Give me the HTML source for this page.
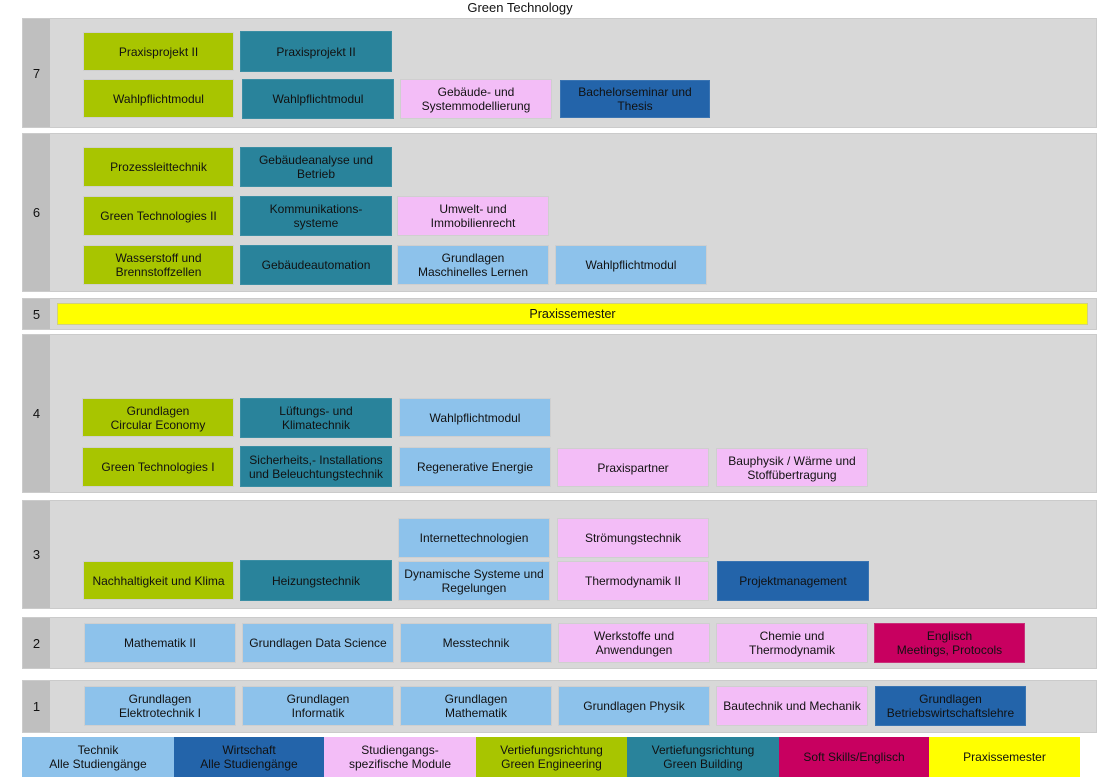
<!DOCTYPE html>
<html><head><meta charset="utf-8"><style>
html,body{margin:0;padding:0;background:#fff;}
body{width:1111px;height:784px;position:relative;overflow:hidden;font-family:"Liberation Sans",Arial,sans-serif;color:#111;}
.t{position:absolute;left:420px;width:200px;top:0;text-align:center;font-size:13px;line-height:15px;}
.band{position:absolute;left:22px;width:1075px;background:#d8d8d8;box-sizing:border-box;border:1px solid #cbcbcb;}
.lab{position:absolute;left:0;top:0;bottom:0;width:27px;background:#bfbfbf;display:flex;align-items:center;justify-content:center;font-size:13px;}
.b{position:absolute;box-sizing:border-box;display:flex;align-items:center;justify-content:center;text-align:center;font-size:12px;line-height:14px;border:1px solid #cfcfcf;}
.g{background:#a8c500;}
.c{background:#29839b;border-color:#3b8ea4;}
.p{background:#f3bdf7;}
.l{background:#8dc2eb;}
.d{background:#2364aa;border-color:#3a74b2;}
.m{background:#c80060;border-color:#c9307a;}
.y{background:#ffff00;border-color:#d0d080;}
.lg{position:absolute;top:737px;height:40px;box-sizing:border-box;display:flex;align-items:center;justify-content:center;text-align:center;font-size:12px;line-height:14px;}
</style></head><body>
<div class="t">Green Technology</div>

<!-- Semester 7 -->
<div class="band" style="top:18px;height:110px;"><div class="lab">7</div></div>
<div class="b g" style="left:83px;top:32px;width:151px;height:39px;">Praxisprojekt II</div>
<div class="b c" style="left:240px;top:31px;width:152px;height:41px;">Praxisprojekt II</div>
<div class="b g" style="left:83px;top:79px;width:151px;height:39px;">Wahlpflichtmodul</div>
<div class="b c" style="left:242px;top:79px;width:152px;height:40px;">Wahlpflichtmodul</div>
<div class="b p" style="left:400px;top:79px;width:152px;height:40px;">Gebäude- und<br>Systemmodellierung</div>
<div class="b d" style="left:560px;top:80px;width:150px;height:38px;">Bachelorseminar und<br>Thesis</div>

<!-- Semester 6 -->
<div class="band" style="top:133px;height:159px;"><div class="lab">6</div></div>
<div class="b g" style="left:83px;top:147px;width:151px;height:40px;">Prozessleittechnik</div>
<div class="b c" style="left:240px;top:147px;width:152px;height:40px;">Gebäudeanalyse und<br>Betrieb</div>
<div class="b g" style="left:83px;top:196px;width:151px;height:40px;">Green Technologies II</div>
<div class="b c" style="left:240px;top:196px;width:152px;height:40px;">Kommunikations-<br>systeme</div>
<div class="b p" style="left:397px;top:196px;width:152px;height:40px;">Umwelt- und<br>Immobilienrecht</div>
<div class="b g" style="left:83px;top:245px;width:151px;height:40px;">Wasserstoff und<br>Brennstoffzellen</div>
<div class="b c" style="left:240px;top:245px;width:152px;height:40px;">Gebäudeautomation</div>
<div class="b l" style="left:397px;top:245px;width:152px;height:40px;">Grundlagen<br>Maschinelles Lernen</div>
<div class="b l" style="left:555px;top:245px;width:152px;height:40px;">Wahlpflichtmodul</div>

<!-- Semester 5 -->
<div class="band" style="top:298px;height:32px;"><div class="lab">5</div></div>
<div class="b y" style="left:57px;top:303px;width:1031px;height:22px;font-size:12.5px;">Praxissemester</div>

<!-- Semester 4 -->
<div class="band" style="top:334px;height:159px;"><div class="lab">4</div></div>
<div class="b g" style="left:82px;top:398px;width:152px;height:39px;">Grundlagen<br>Circular Economy</div>
<div class="b c" style="left:240px;top:398px;width:152px;height:40px;">Lüftungs- und<br>Klimatechnik</div>
<div class="b l" style="left:399px;top:398px;width:152px;height:39px;">Wahlpflichtmodul</div>
<div class="b g" style="left:82px;top:447px;width:152px;height:40px;">Green Technologies I</div>
<div class="b c" style="left:240px;top:446px;width:152px;height:41px;">Sicherheits,- Installations<br>und Beleuchtungstechnik</div>
<div class="b l" style="left:399px;top:447px;width:152px;height:40px;">Regenerative Energie</div>
<div class="b p" style="left:557px;top:448px;width:152px;height:39px;">Praxispartner</div>
<div class="b p" style="left:716px;top:448px;width:152px;height:39px;">Bauphysik / Wärme und<br>Stoffübertragung</div>

<!-- Semester 3 -->
<div class="band" style="top:500px;height:109px;"><div class="lab">3</div></div>
<div class="b l" style="left:398px;top:518px;width:152px;height:40px;">Internettechnologien</div>
<div class="b p" style="left:557px;top:518px;width:152px;height:40px;">Strömungstechnik</div>
<div class="b g" style="left:83px;top:561px;width:151px;height:39px;">Nachhaltigkeit und Klima</div>
<div class="b c" style="left:240px;top:560px;width:152px;height:41px;">Heizungstechnik</div>
<div class="b l" style="left:398px;top:561px;width:152px;height:40px;">Dynamische Systeme und<br>Regelungen</div>
<div class="b p" style="left:557px;top:561px;width:152px;height:40px;">Thermodynamik II</div>
<div class="b d" style="left:717px;top:561px;width:152px;height:40px;">Projektmanagement</div>

<!-- Semester 2 -->
<div class="band" style="top:617px;height:52px;"><div class="lab">2</div></div>
<div class="b l" style="left:84px;top:623px;width:152px;height:40px;">Mathematik II</div>
<div class="b l" style="left:242px;top:623px;width:152px;height:40px;">Grundlagen Data Science</div>
<div class="b l" style="left:400px;top:623px;width:152px;height:40px;">Messtechnik</div>
<div class="b p" style="left:558px;top:623px;width:152px;height:40px;">Werkstoffe und<br>Anwendungen</div>
<div class="b p" style="left:716px;top:623px;width:152px;height:40px;">Chemie und<br>Thermodynamik</div>
<div class="b m" style="left:874px;top:623px;width:151px;height:40px;">Englisch<br>Meetings, Protocols</div>

<!-- Semester 1 -->
<div class="band" style="top:680px;height:53px;"><div class="lab">1</div></div>
<div class="b l" style="left:84px;top:686px;width:152px;height:40px;">Grundlagen<br>Elektrotechnik I</div>
<div class="b l" style="left:242px;top:686px;width:152px;height:40px;">Grundlagen<br>Informatik</div>
<div class="b l" style="left:400px;top:686px;width:152px;height:40px;">Grundlagen<br>Mathematik</div>
<div class="b l" style="left:558px;top:686px;width:152px;height:40px;">Grundlagen Physik</div>
<div class="b p" style="left:716px;top:686px;width:152px;height:40px;">Bautechnik und Mechanik</div>
<div class="b d" style="left:875px;top:686px;width:151px;height:40px;">Grundlagen<br>Betriebswirtschaftslehre</div>

<!-- Legend -->
<div class="lg l" style="left:22px;width:152px;">Technik<br>Alle Studiengänge</div>
<div class="lg d" style="left:174px;width:150px;">Wirtschaft<br>Alle Studiengänge</div>
<div class="lg p" style="left:324px;width:152px;">Studiengangs-<br>spezifische Module</div>
<div class="lg g" style="left:476px;width:151px;">Vertiefungsrichtung<br>Green Engineering</div>
<div class="lg c" style="left:627px;width:152px;">Vertiefungsrichtung<br>Green Building</div>
<div class="lg m" style="left:779px;width:150px;">Soft Skills/Englisch</div>
<div class="lg y" style="left:929px;width:151px;">Praxissemester</div>
</body></html>
